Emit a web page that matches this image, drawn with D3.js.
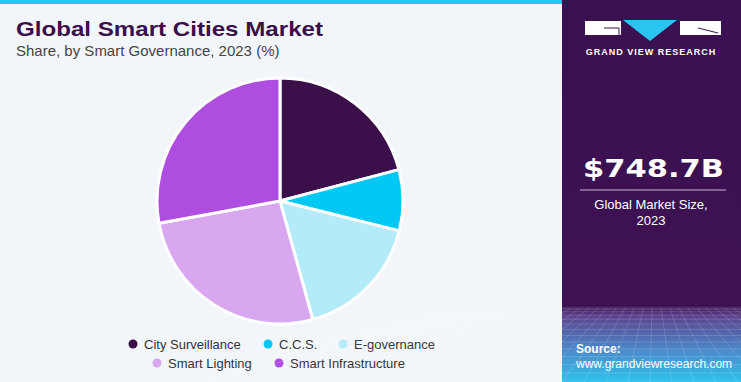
<!DOCTYPE html>
<html>
<head>
<meta charset="utf-8">
<script src="https://cdn.jsdelivr.net/npm/d3@7"></script>
<style>
  html, body { margin: 0; padding: 0; background: #f2f6fa; }
  svg { display: block; font-family: "Liberation Sans", Arial, sans-serif; }
</style>
</head>
<body>
<div id="chart"></div>
<script>
// ====================
// Data
// ====================
const segments = ["City Surveillance", "C.C.S.", "E-governance", "Smart Lighting", "Smart Infrastructure"];
const shares   = [20.9, 8.0, 16.8, 26.4, 27.9];
const colors   = ["#3b0f4a", "#00c8f5", "#b3ebf9", "#d9a6f0", "#ae4ee0"];

const marketSize  = "$748.7B";
const marketLabel = ["Global Market Size,", "2023"];

const width = 741, height = 382;
const panelX = 562;

const svg = d3.select("#chart")
    .append("svg")
    .attr("width", width)
    .attr("height", height);

// background + top bar
svg.append("rect").attr("width", width).attr("height", height).attr("fill", "#f2f6fa");
svg.append("rect").attr("width", panelX).attr("height", 4).attr("fill", "#1ec8f0");

// ====================
// Title
// ====================
svg.append("text")
    .attr("x", 16).attr("y", 36)
    .attr("font-size", 21).attr("font-weight", 900)
    .attr("textLength", 307)
    .attr("lengthAdjust", "spacingAndGlyphs")
    .attr("fill", "#3b0f4a")
    .text("Global Smart Cities Market");

svg.append("text")
    .attr("x", 16).attr("y", 56)
    .attr("font-size", 15)
    .attr("fill", "#444")
    .text("Share, by Smart Governance, 2023 (%)");

// ====================
// Pie
// ====================
const cx = 280, cy = 201, r = 123;
const pie = d3.pie().sort(null).value(d => d);
const arc = d3.arc().innerRadius(0).outerRadius(r);

svg.append("g")
    .attr("transform", `translate(${cx},${cy})`)
    .selectAll("path")
    .data(pie(shares))
    .join("path")
    .attr("d", arc)
    .attr("fill", (d, i) => colors[i])
    .attr("stroke", "#ffffff")
    .attr("stroke-width", 3)
    .attr("stroke-linejoin", "round");

// ====================
// Legend
// ====================
const legendPos = [
    [133, 344], [268, 344], [343, 344],
    [157, 363], [279, 363]
];
const legend = svg.append("g").selectAll("g")
    .data(segments)
    .join("g")
    .attr("transform", (d, i) => `translate(${legendPos[i][0]},${legendPos[i][1]})`);

legend.append("circle").attr("r", 4.5).attr("fill", (d, i) => colors[i]);
legend.append("text")
    .attr("x", 11).attr("y", 4.5)
    .attr("font-size", 13)
    .attr("fill", "#333")
    .text(d => d);

// ====================
// Right panel
// ====================
const defs = svg.append("defs");
const grad = defs.append("linearGradient")
    .attr("id", "panelGrad")
    .attr("x1", 0).attr("y1", 0).attr("x2", 0).attr("y2", 1);
grad.append("stop").attr("offset", "0%").attr("stop-color", "#3a1050");
grad.append("stop").attr("offset", "80%").attr("stop-color", "#3e1252");
grad.append("stop").attr("offset", "83%").attr("stop-color", "#5b4690");
grad.append("stop").attr("offset", "92%").attr("stop-color", "#4a8ccc");
grad.append("stop").attr("offset", "100%").attr("stop-color", "#2fc2ec");

const panel = svg.append("g");
panel.append("rect")
    .attr("x", panelX).attr("y", 0)
    .attr("width", width - panelX).attr("height", height)
    .attr("fill", "url(#panelGrad)");

// faint perspective grid at the bottom
const grid = panel.append("g")
    .attr("stroke", "#ffffff")
    .attr("stroke-opacity", 0.22)
    .attr("stroke-width", 0.7);
const horizon = 308;
d3.range(0, 14).forEach(k => {
    const y = horizon + Math.pow(k / 13, 1.6) * (height - horizon);
    grid.append("line").attr("x1", panelX).attr("x2", width).attr("y1", y).attr("y2", y);
});
d3.range(-12, 25).forEach(k => {
    const xTop = panelX + k * 9;
    const xBot = panelX + (k - 6) * 22;
    grid.append("line").attr("x1", xTop).attr("y1", horizon).attr("x2", xBot).attr("y2", height);
});

// logo
const logo = panel.append("g");
logo.append("rect").attr("x", 585).attr("y", 21).attr("width", 36).attr("height", 14).attr("fill", "#fff");
logo.append("path").attr("d", "M623,20 L677,20 L650,41 Z").attr("fill", "#29c5f0");
logo.append("rect").attr("x", 680).attr("y", 21).attr("width", 41).attr("height", 14).attr("fill", "#fff");
logo.append("path").attr("d", "M604,28 L619,28 L619,35").attr("stroke", "#3a1050").attr("stroke-width", 1).attr("fill", "none");
logo.append("path").attr("d", "M698,28 L718,33").attr("stroke", "#3a1050").attr("stroke-width", 1).attr("fill", "none");

panel.append("text")
    .attr("x", 651).attr("y", 55)
    .attr("text-anchor", "middle")
    .attr("font-size", 9).attr("font-weight", 700)
    .attr("letter-spacing", 1)
    .attr("fill", "#ffffff")
    .text("GRAND VIEW RESEARCH");

panel.append("text")
    .attr("x", 583).attr("y", 177)
    .attr("font-family", "'DejaVu Sans', sans-serif")
    .attr("font-size", 25).attr("font-weight", 700)
    .attr("textLength", 141)
    .attr("lengthAdjust", "spacingAndGlyphs")
    .attr("fill", "#ffffff")
    .text(marketSize);

panel.append("line")
    .attr("x1", 580).attr("x2", 726)
    .attr("y1", 190).attr("y2", 190)
    .attr("stroke", "#c9b8d6").attr("stroke-width", 1);

panel.selectAll("text.size-label")
    .data(marketLabel)
    .join("text")
    .attr("class", "size-label")
    .attr("x", 651).attr("y", (d, i) => 209 + i * 16)
    .attr("text-anchor", "middle")
    .attr("font-size", 13)
    .attr("fill", "#ffffff")
    .text(d => d);

panel.append("text")
    .attr("x", 576).attr("y", 353)
    .attr("font-size", 12).attr("font-weight", 700)
    .attr("fill", "#ffffff")
    .text("Source:");
panel.append("text")
    .attr("x", 576).attr("y", 368)
    .attr("font-size", 12)
    .attr("fill", "#ffffff")
    .text("www.grandviewresearch.com");
</script>
</body>
</html>
